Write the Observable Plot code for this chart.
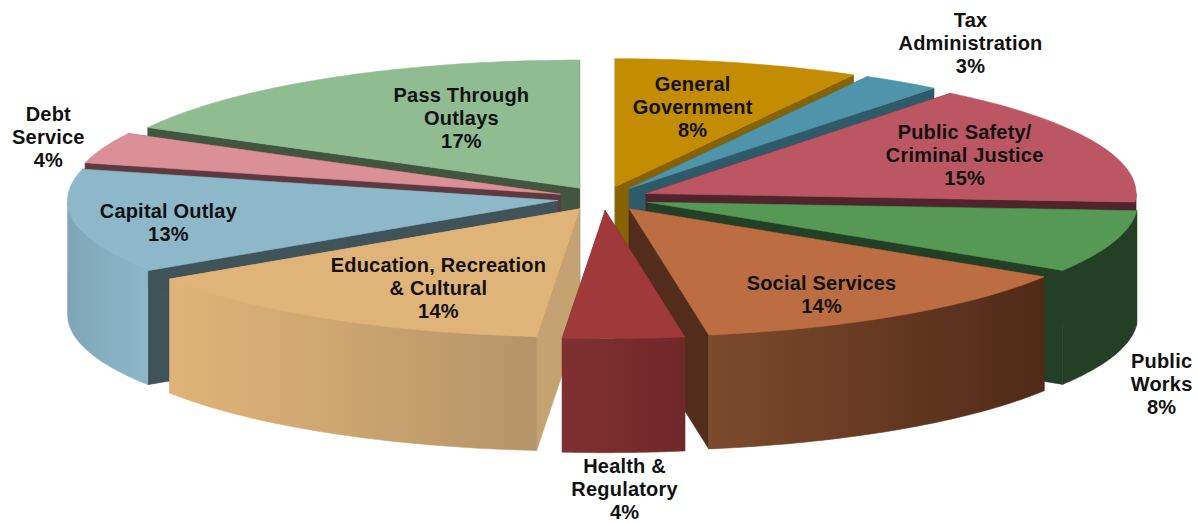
<!DOCTYPE html>
<html>
<head>
<meta charset="utf-8">
<script src="https://cdn.jsdelivr.net/npm/d3@7"></script>
<script src="https://cdn.jsdelivr.net/npm/@observablehq/plot@0.6"></script>
<style>
html,body{margin:0;padding:0;background:#fff}
svg{display:block}
</style>
</head>
<body>
<div id="chart"></div>
<script>
// Data, clockwise from 12 o'clock
const categories = ["General\nGovernment","Tax\nAdministration","Public Safety/\nCriminal Justice","Public\nWorks","Social Services","Health &\nRegulatory","Education, Recreation\n& Cultural","Capital Outlay","Debt\nService","Pass Through\nOutlays"];
const shares = [8.1,2.6,15.4,7.9,13.5,4.0,14.4,13.2,3.9,17.2];

// Styles: top face, cut wall, outer wall gradient start / end
const topColors  = ["#C48C00","#4F94AB","#BC5662","#559955","#BC6E42","#A03A3A","#E0B478","#8CB8CA","#DB8F96","#90BC92"];
const cutColors  = ["#866300","#2F5A69","#50242C","#233F26","#522D1B","#6E2626","#C4A272","#3F5359","#5E3A40","#41553F"];
const wallStart  = ["#866300","#2F5A69","#50242C","#233F26","#7D4A2C","#803030","#E0B478","#7FA6B6","#5E3A40","#41553F"];
const wallEnd    = ["#866300","#2F5A69","#50242C","#233F26","#4F2A18","#702828","#B59468","#8CB8CA","#5E3A40","#41553F"];

// Pie layout, in the plot's x/y units
const pie = {cx:603, cy:198, rx:490, ry:128, depth:114, explode:0.095};
const labelU = [0.182,0.749,0.737,1.139,0.445,0.043,-0.337,-0.888,-1.133,-0.29];
const labelV = [-0.72,-1.22,-0.346,1.449,0.748,2.265,0.70,0.181,-0.48,-0.63];

const total = d3.sum(shares);
const rad = Math.PI/180;
let acc = 0;
const slices = shares.map((v,i)=>{
  const t0 = acc/total*360; acc += v; const t1 = acc/total*360;
  const mid = (t0+t1)/2;
  return {i,t0,t1,mid,
    ax: pie.cx + pie.explode*pie.rx*Math.sin(mid*rad),
    ay: pie.cy - pie.explode*pie.ry*Math.cos(mid*rad)};
});
const rim = (s,t)=>({x:s.ax+pie.rx*Math.sin(t*rad), y:s.ay-pie.ry*Math.cos(t*rad)});
const down = p=>({x:p.x,y:p.y+pie.depth});
const arc = (s,a,b)=>d3.range(0,61).map(k=>rim(s,a+(b-a)*k/60));

const face = (pts,fill)=>Plot.line([...pts,pts[0]],{x:"x",y:"y",fill,stroke:fill,strokeWidth:0.6,curve:"linear"});

const marks = [];
slices.slice().sort((a,b)=>Math.cos(b.mid*rad)-Math.cos(a.mid*rad)).forEach(s=>{
  const apex={x:s.ax,y:s.ay};
  [s.t0,s.t1].forEach(t=>{
    const p=rim(s,t);
    marks.push(face([apex,p,down(p),down(apex)],cutColors[s.i]));
  });
  const a=Math.max(s.t0,90), b=Math.min(s.t1,270);
  if (b>a){
    const top=arc(s,a,b);
    marks.push(face([...top,...top.slice().reverse().map(down)],`url(#wall${s.i})`));
  }
  marks.push(face([apex,...arc(s,s.t0,s.t1)],topColors[s.i]));
});

const labels = categories.map((c,i)=>({
  text:`${c}\n${Math.round(shares[i])}%`,
  x:pie.cx+labelU[i]*pie.rx,
  y:pie.cy+labelV[i]*pie.ry
}));
marks.push(Plot.text(labels,{x:"x",y:"y",text:"text",fontSize:20,fontWeight:"bold",lineHeight:1.15,fill:"#111",lineAnchor:"middle",textAnchor:"middle"}));

const chart = Plot.plot({
  width:1198,height:522,margin:0,
  x:{domain:[0,1198],range:[0,1198],axis:null},
  y:{domain:[0,522],range:[0,522],axis:null},
  style:{fontFamily:"'Liberation Sans',Arial,sans-serif",background:"#fff",letterSpacing:"0.2px"},
  marks
});
const defs = d3.select(chart).insert("defs",":first-child");
slices.forEach(s=>{
  const g=defs.append("linearGradient").attr("id",`wall${s.i}`).attr("x1",0).attr("x2",1).attr("y1",0).attr("y2",0);
  g.append("stop").attr("offset","0%").attr("stop-color",wallStart[s.i]);
  g.append("stop").attr("offset","100%").attr("stop-color",wallEnd[s.i]);
});
document.getElementById("chart").appendChild(chart);
</script>
</body>
</html>
